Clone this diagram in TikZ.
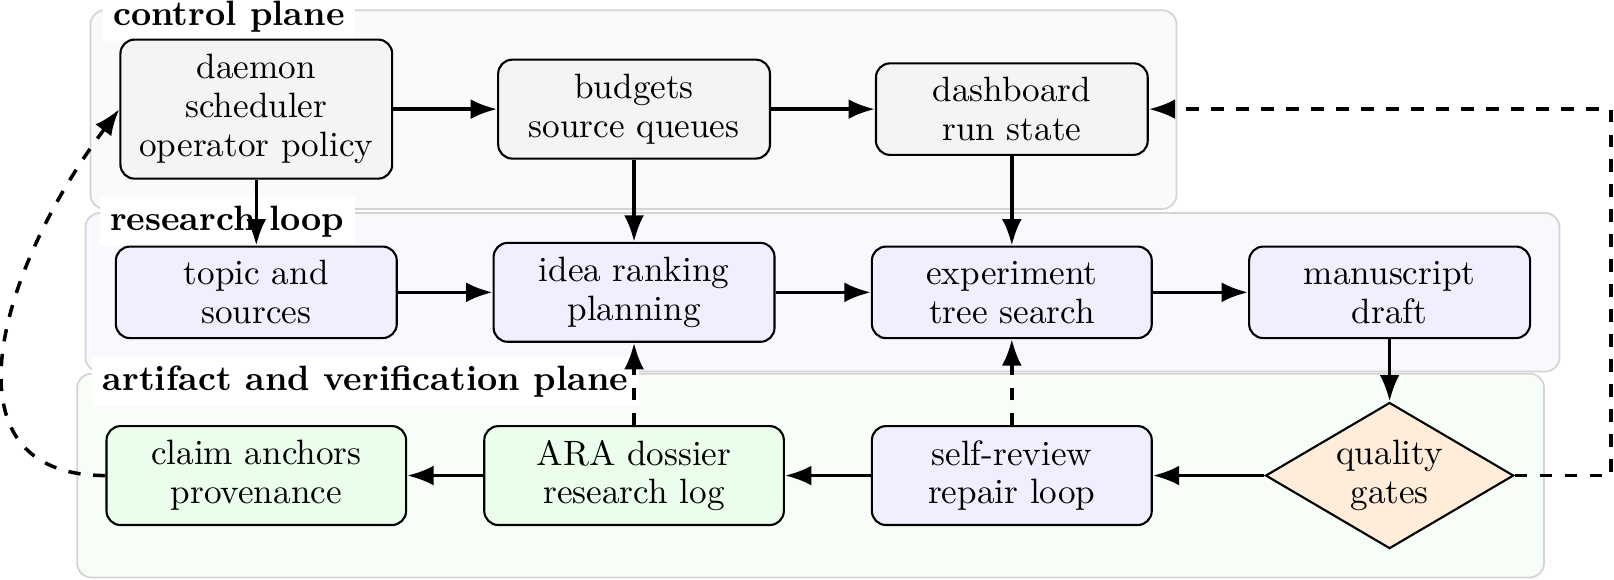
\documentclass[tikz,border=0pt]{standalone}
\usetikzlibrary{arrows.meta,shapes.geometric}
\definecolor{ctrlnode}{HTML}{F4F4F4}
\definecolor{ctrlbg}{HTML}{FAFAFA}
\definecolor{resnode}{HTML}{EFEFFF}
\definecolor{resbg}{HTML}{F8F8FF}
\definecolor{artnode}{HTML}{EBFDEB}
\definecolor{artbg}{HTML}{F7FEF7}
\definecolor{gatefill}{HTML}{FFECD9}
\definecolor{planeline}{HTML}{D4D4D4}
\begin{document}
\begin{tikzpicture}[x=0.2924pt,y=-0.2924pt,
  every node/.style={font=\fontsize{10}{11}\selectfont},
  box/.style={draw=black, line width=0.6pt, rounded corners=4pt, align=center, inner sep=0pt},
  ctrl/.style={box, fill=ctrlnode},
  res/.style={box, fill=resnode},
  art/.style={box, fill=artnode},
  gate/.style={diamond, aspect=1.7, draw=black, line width=0.6pt, fill=gatefill, align=center, inner sep=0pt, minimum width=70.5pt, minimum height=41.5pt},
  plane/.style={draw=planeline, line width=0.5pt, rounded corners=4pt},
  planelabel/.style={fill=white, inner xsep=3pt, inner ysep=2.5pt, anchor=base west, font=\fontsize{10}{11}\selectfont\bfseries},
  flow/.style={-{Latex}, line width=1pt},
  back/.style={flow, dash pattern=on 3.5pt off 3.6pt},
]
\useasboundingbox (0,0) rectangle (1568,563);
% planes
\draw[plane, fill=ctrlbg] (88,10) rectangle (1143,203);
\draw[plane, fill=resbg] (83,207) rectangle (1515,361);
\draw[plane, fill=artbg] (75,363) rectangle (1500,561);
\node[planelabel] (lctrl) at (99,25) {control plane};
\node[planelabel] (lres) at (96,224) {research loop};
\node[planelabel] (lart) at (89,379) {artifact and verification plane};
% control plane
\node[ctrl, minimum width=77.2pt, minimum height=39.5pt] (daemon) at (249,106) {daemon\\scheduler\\operator policy};
\node[ctrl, minimum width=77.2pt, minimum height=28.1pt] (budgets) at (616,106) {budgets\\source queues};
\node[ctrl, minimum width=77.2pt, minimum height=26pt] (dash) at (983,106) {dashboard\\run state};
% research loop
\node[res, minimum width=79.8pt, minimum height=26pt] (topic) at (249,284) {topic and\\sources};
\node[res, minimum width=79.8pt, minimum height=28.1pt] (idea) at (616,284) {idea ranking\\planning};
\node[res, minimum width=79.5pt, minimum height=26pt] (exper) at (983,284) {experiment\\tree search};
\node[res, minimum width=79.8pt, minimum height=26pt] (manu) at (1350,284) {manuscript\\draft};
% artifact plane
\node[art, minimum width=85.1pt, minimum height=28.1pt] (claim) at (249,462) {claim anchors\\provenance};
\node[art, minimum width=85.1pt, minimum height=28.1pt] (ara) at (616,462) {ARA dossier\\research log};
\node[res, minimum width=79.5pt, minimum height=28.1pt] (self) at (983,462) {self-review\\repair loop};
\node[gate] (gates) at (1350,462) {quality\\gates};
% connectors
\draw[flow] (daemon) -- (budgets);
\draw[flow] (budgets) -- (dash);
\draw[flow] (daemon.south) -- (topic.north);
\draw[flow] (budgets.south) -- (idea.north);
\draw[flow] (dash.south) -- (exper.north);
\draw[flow] (topic) -- (idea);
\draw[flow] (idea) -- (exper);
\draw[flow] (exper) -- (manu);
\draw[flow] (manu.south) -- (gates.north);
\draw[flow] (gates.west) -- (self.east);
\draw[flow] (self) -- (ara);
\draw[flow] (ara) -- (claim);
\draw[back] (self.north) -- (exper.south);
\draw[back] (ara.north) -- (idea.south);
\coordinate (rb) at (1565,462);
\draw[back] (gates.east) -- (rb) |- (dash.east);
\draw[back] (claim.west) .. controls (-62,462) and (0,260) .. (daemon.west);
\end{tikzpicture}
\end{document}
